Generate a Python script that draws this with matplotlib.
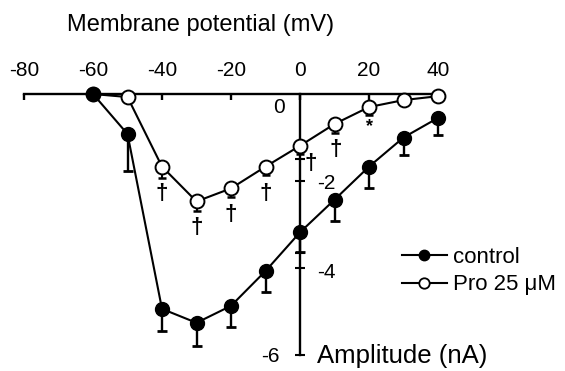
import numpy as np
import matplotlib
matplotlib.use("Agg")
import matplotlib.pyplot as plt
from matplotlib.lines import Line2D

plt.rcParams['font.family'] = ['Liberation Sans', 'DejaVu Sans']

# membrane potential (mV)
voltage = [-60, -50, -40, -30, -20, -10, 0, 10, 20, 30, 40]

# current amplitude (nA), mean and lower error
control = [0.0, -0.92, -4.94, -5.26, -4.87, -4.07, -3.18, -2.43, -1.67, -1.0, -0.55]
control_err = [0.0, 0.85, 0.5, 0.53, 0.48, 0.48, 0.45, 0.5, 0.48, 0.41, 0.39]

pro = [0.0, -0.07, -1.67, -2.47, -2.17, -1.67, -1.19, -0.69, -0.3, -0.14, -0.05]
pro_err = [0.0, 0.0, 0.25, 0.23, 0.2, 0.2, 0.18, 0.2, 0.18, 0.0, 0.0]

# significance marks under the Pro points
sig_v = [-40, -30, -20, -10, 0, 10, 20]
sig_marks = ['†', '†', '†', '†', '†', '†', '*']

xticks = [-80, -60, -40, -20, 0, 20, 40]

W, H = 565, 371
fig = plt.figure(figsize=(W / 100, H / 100), dpi=100)
ax = fig.add_axes([24 / W, 16 / H, 414 / W, 261 / H])
ax.set_xlim(-80, 40)
ax.set_ylim(-6, 0)

# axes drawn through the origin
ax.spines['right'].set_visible(False)
ax.spines['bottom'].set_visible(False)
ax.spines['left'].set_position(('data', 0))
for s in ['top', 'left']:
    ax.spines[s].set_linewidth(1.7)

ax.xaxis.set_ticks_position('top')
ax.set_xticks(xticks)
ax.set_xticklabels([str(t) for t in xticks])
ax.tick_params(axis='x', direction='in', length=4, width=1.7, pad=10, labelsize=15)

ax.set_yticks([-6, -4, -2])
ax.set_yticks([-3.65, -1.5], minor=True)
ax.set_yticklabels([])
ax.tick_params(axis='y', which='both', direction='inout', length=7, width=1.5)

# y labels placed by hand as in the original
ax.text(-6, -0.3, '0', fontsize=15, ha='center', va='center')
ax.text(7.5, -2.05, '-2', fontsize=15, ha='center', va='center')
ax.text(7.5, -4.1, '-4', fontsize=15, ha='center', va='center')
ax.text(-8.6, -6.03, '-6', fontsize=15, ha='center', va='center', clip_on=False)
ax.text(5.0, -6.03, 'Amplitude (nA)', fontsize=18.5, ha='left', va='center', clip_on=False)

fig.text(201 / W, 1 - 25 / H, 'Membrane potential (mV)', fontsize=17, ha='center', va='center')

# error bars (downward only)
ax.errorbar(voltage, control, yerr=[control_err, np.zeros(len(control))], fmt='none',
            ecolor='black', elinewidth=1.7, capsize=3.8, capthick=2.0, clip_on=False, zorder=2)
ax.errorbar(voltage, pro, yerr=[pro_err, np.zeros(len(pro))], fmt='none',
            ecolor='black', elinewidth=1.5, capsize=3.2, capthick=1.8, clip_on=False, zorder=2)

ax.plot(voltage, pro, '-o', color='black', mfc='white', mec='black', mew=1.4,
        ms=10, lw=1.5, clip_on=False, zorder=3)
ax.plot(voltage, control, '-o', color='black', mfc='black', mec='black',
        ms=10, lw=1.5, clip_on=False, zorder=4)

offsets = {0: (8, -13), 10: (1, -18), 20: (0, -14)}
for v, m in zip(sig_v, sig_marks):
    y = pro[voltage.index(v)]
    dx, dy = offsets.get(v, (0, -19))
    ax.annotate(m, (v, y), xytext=(dx, dy), textcoords='offset points',
                ha='center', va='center', fontsize=16 if m == '†' else 13,
                fontweight='bold')

handles = [Line2D([], [], color='black', marker='o', mfc='black', mec='black', ms=7.5, lw=1.5),
           Line2D([], [], color='black', marker='o', mfc='white', mec='black', mew=1.3, ms=7.5, lw=1.5)]
fig.legend(handles, ['control', 'Pro 25 μM'], loc='center left',
           bbox_to_anchor=(391 / W, 1 - 271 / H), frameon=False, fontsize=16,
           handlelength=2.0, handletextpad=0.3, labelspacing=0.3, borderpad=0)

fig.savefig('out.png', dpi=100)
